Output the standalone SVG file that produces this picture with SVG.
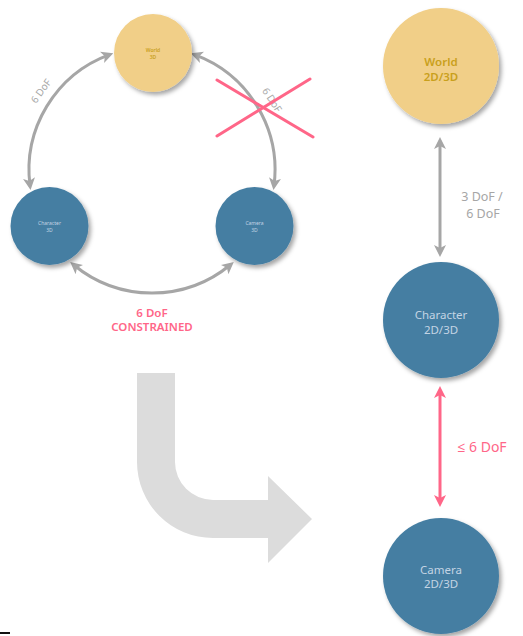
<svg xmlns="http://www.w3.org/2000/svg" width="523" height="636" viewBox="0 0 523 636">
<defs>
<filter id="sh" x="-30%" y="-30%" width="170%" height="170%">
<feDropShadow dx="2.5" dy="3" stdDeviation="2" flood-color="#000" flood-opacity="0.35"/>
</filter>
<marker id="ag" viewBox="0 0 12 12" markerWidth="12" markerHeight="12" refX="8" refY="6" orient="auto-start-reverse" markerUnits="userSpaceOnUse">
<path d="M0,0 L12,6 L0,12 L3,6 z" fill="#a6a6a6"/>
</marker>
<marker id="ar" viewBox="0 0 12 12" markerWidth="12" markerHeight="12" refX="8" refY="6" orient="auto-start-reverse" markerUnits="userSpaceOnUse">
<path d="M0,0 L12,6 L0,12 L3,6 z" fill="#ff6688"/>
</marker>
</defs>
<style>
text{font-family:"Noto Sans","Open Sans","Liberation Sans",sans-serif;text-anchor:middle}
.world{fill:#f1cf88;filter:url(#sh)}
.blue{fill:#457ea2;filter:url(#sh)}
.wt{fill:#c9a01c;font-weight:600}
.bt{fill:#c3d4e4}
.gl{fill:#a6a6a6}
.rl{fill:#ff6688}
.gc{fill:none;stroke:#a6a6a6;stroke-width:3}
.sm{font-size:5px}
</style>
<g id="connectors">
<path class="gc" d="M30.05,186.06 A123,123 0 0 1 109.53,54.56" marker-start="url(#ag)" marker-end="url(#ag)"/>
<path class="gc" d="M194.47,54.56 A123,123 0 0 1 273.95,186.06" marker-start="url(#ag)" marker-end="url(#ag)"/>
<path class="gc" d="M73.27,264.5 A123,123 0 0 0 230.73,264.5" marker-start="url(#ag)" marker-end="url(#ag)"/>
<line x1="440" y1="141" x2="440" y2="253" class="gc" marker-start="url(#ag)" marker-end="url(#ag)"/>
<line x1="440" y1="390" x2="440" y2="503" stroke="#ff6688" stroke-width="3" marker-start="url(#ar)" marker-end="url(#ar)"/>
<text class="gl" font-size="10" transform="translate(41,91) rotate(-54)" dy="3.5">6 DoF</text>
<text class="gl" font-size="10" transform="translate(272,100) rotate(57)" dy="3.5">6 DoF</text>
<text class="gl" font-size="12.5" x="482" y="201">3 DoF /</text>
<text class="gl" font-size="12.5" x="483" y="218">6 DoF</text>
<text class="rl" font-size="14" x="482" y="452">≤ 6 DoF</text>
<text class="rl" font-size="11.5" font-weight="600" x="152" y="317">6 DoF</text>
<text class="rl" font-size="11.5" font-weight="600" x="152" y="331">CONSTRAINED</text>
</g>
<g id="cross">
<line x1="217" y1="80" x2="313" y2="137" stroke="#ff6688" stroke-width="3" stroke-linecap="round"/>
<line x1="217" y1="136" x2="310" y2="79" stroke="#ff6688" stroke-width="3" stroke-linecap="round"/>
</g>
<g id="world-small">
<circle class="world" cx="153" cy="53" r="39"/>
<text class="wt sm" x="153" y="52">World</text>
<text class="wt sm" x="153" y="59">3D</text>
</g>
<g id="character-small">
<circle class="blue" cx="49.5" cy="226" r="39"/>
<text class="bt sm" x="49.5" y="224.5">Character</text>
<text class="bt sm" x="49.5" y="231.5">3D</text>
</g>
<g id="camera-small">
<circle class="blue" cx="254.5" cy="226" r="39"/>
<text class="bt sm" x="254.5" y="224.5">Camera</text>
<text class="bt sm" x="254.5" y="231.5">3D</text>
</g>
<g id="world-big">
<circle class="world" cx="441" cy="66" r="58"/>
<text class="wt" font-size="11.5" x="441" y="66">World</text>
<text class="wt" font-size="11.5" x="441" y="81">2D/3D</text>
</g>
<g id="character-big">
<circle class="blue" cx="441" cy="320" r="58"/>
<text class="bt" font-size="11.5" x="441" y="319">Character</text>
<text class="bt" font-size="11.5" x="441" y="334">2D/3D</text>
</g>
<g id="camera-big">
<circle class="blue" cx="441" cy="576" r="58"/>
<text class="bt" font-size="11.5" x="441" y="574">Camera</text>
<text class="bt" font-size="11.5" x="441" y="588">2D/3D</text>
</g>
<g id="big-arrow">
<path d="M137,373 L175,373 L175,462 A38,38 0 0 0 213,500 L268,500 L268,476 L312,519 L268,563 L268,538 L213,538 A76,76 0 0 1 137,462 Z" fill="#dcdcdc"/>
</g>
<rect x="0" y="632" width="10" height="2" fill="#111"/>
</svg>
